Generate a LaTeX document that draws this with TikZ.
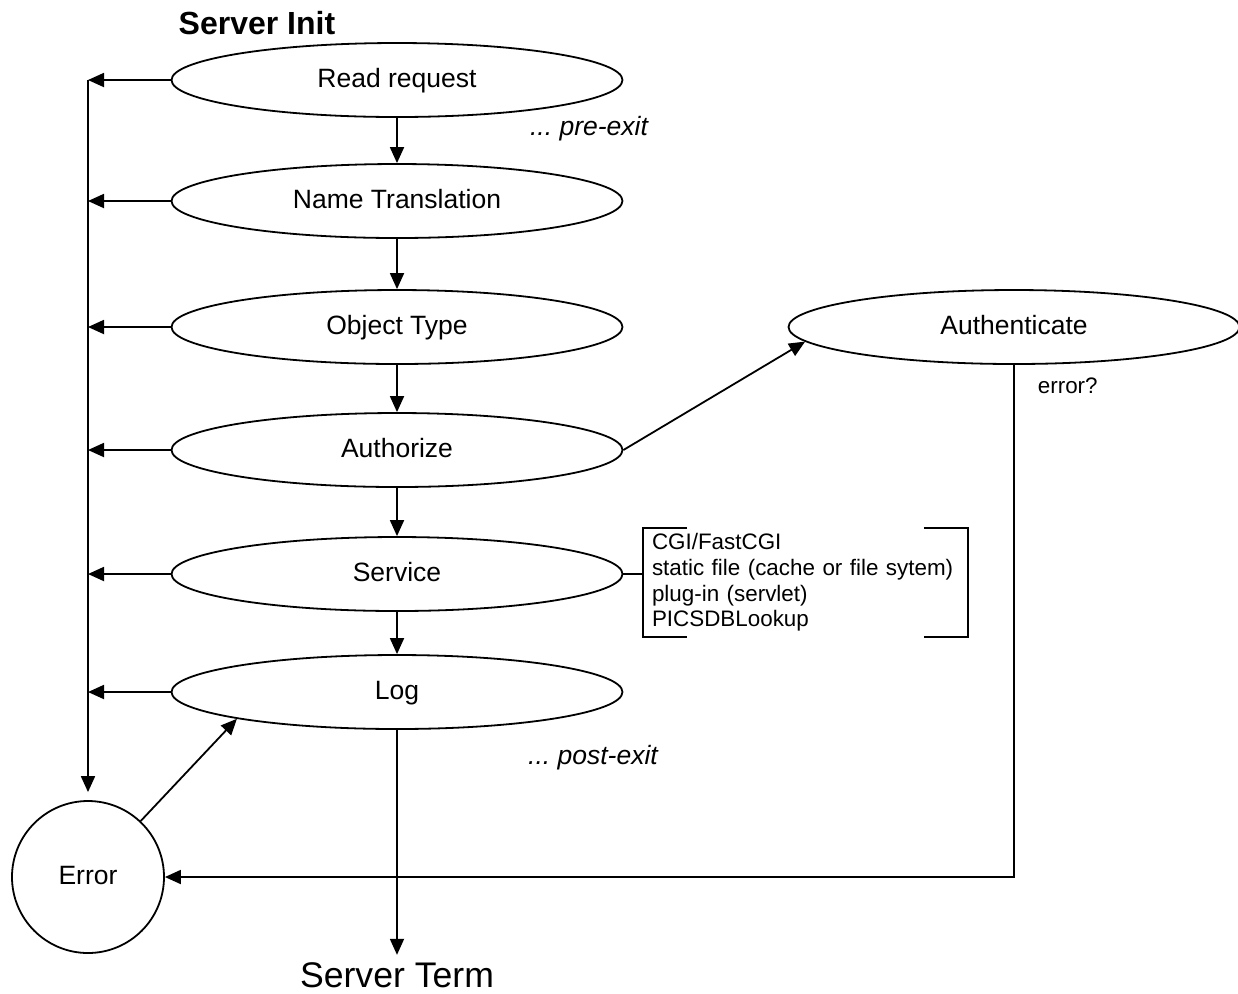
\documentclass[tikz,border=0pt]{standalone}
\usepackage{fontspec}
\setmainfont{Liberation Sans}
\usetikzlibrary{arrows.meta,calc,shapes.geometric}
\tikzset{
	stage/.style={draw, ellipse, minimum width=225.5pt, minimum height=37pt, inner sep=0pt, text height=0.72em, text depth=0pt, font=\fontsize{13.25}{16}\selectfont},
	note/.style={font=\itshape\fontsize{13.25}{16}\selectfont},
	small/.style={font=\fontsize{11.2}{12.85}\selectfont},
	arr/.style={-{Triangle[length=8pt,width=7pt]}}
}

\begin{document}
\begin{tikzpicture}[x=0.5pt, y=-0.5pt, line width=0.9pt]
			%%%%% START %%%%%
			\useasboundingbox (0, 0) rectangle (1238, 993);
			
			\node[font=\bfseries\fontsize{16}{19}\selectfont] (init) at (257, 23) {Server Init};
			
			\node[stage] (read) at (397, 80) {Read request};
			\node[stage] (name) at (397, 201) {Name Translation};
			\node[stage] (obj) at (397, 327) {Object Type};
			\node[stage] (authz) at (397, 450) {Authorize};
			\node[stage] (serv) at (397, 574) {Service};
			\node[stage] (log) at (397, 692) {Log};
			
			\node[stage] (auth) at (1014, 327) {Authenticate};
			
			\node[draw, circle, minimum size=76pt, inner sep=0pt, text height=0.72em, text depth=0pt, font=\fontsize{13.25}{16}\selectfont] (err) at (88, 877) {Error};
			\node[font=\fontsize{17.8}{21}\selectfont] (term) at (397, 975) {Server Term};
			
			\node[note] (pre) at (589, 129) {...\ pre-exit};
			\node[note] (post) at (593, 758) {...\ post-exit};
			\node[small, anchor=west, inner sep=0pt] (errq) at (1037, 386) {error?};
			
			% service handlers
			\node[small, text width=153.5pt, inner xsep=4pt, inner ysep=0pt, minimum height=53.5pt, align=left] (svclist) at (805.5, 582.5) {CGI/FastCGI\\static file (cache or file sytem)\\plug-in (servlet)\\PICSDBLookup};
			\draw ($(svclist.north west)+(44, 0)$) -- (svclist.north west) -- (svclist.south west) -- ++(44, 0);
			\draw ($(svclist.north east)+(-44, 0)$) -- (svclist.north east) -- (svclist.south east) -- ++(-44, 0);
			\draw (serv.east) -- (serv.east -| svclist.west);
			
			% main chain
			\draw[arr] (read) -- (name);
			\draw[arr] (name) -- (obj);
			\draw[arr] (obj) -- (authz);
			\draw[arr] (authz) -- (serv);
			\draw[arr] (serv) -- (log);
			\draw[arr] (log) -- (term);
			
			% error rail
			\coordinate (rail) at (88, 80);
			\draw[arr, shorten >=4pt] (rail) -- (err.north);
			\draw[arr] (read.west) -- (read.west -| rail);
			\draw[arr] (name.west) -- (name.west -| rail);
			\draw[arr] (obj.west) -- (obj.west -| rail);
			\draw[arr] (authz.west) -- (authz.west -| rail);
			\draw[arr] (serv.west) -- (serv.west -| rail);
			\draw[arr] (log.west) -- (log.west -| rail);
			\draw[arr] (err) -- (log.south west);
			
			\draw[arr] (authz.east) -- (auth.184);
			\draw[arr] (auth.south) |- (err.east);
			
			%%%%% END %%%%%
\end{tikzpicture}
\end{document}
